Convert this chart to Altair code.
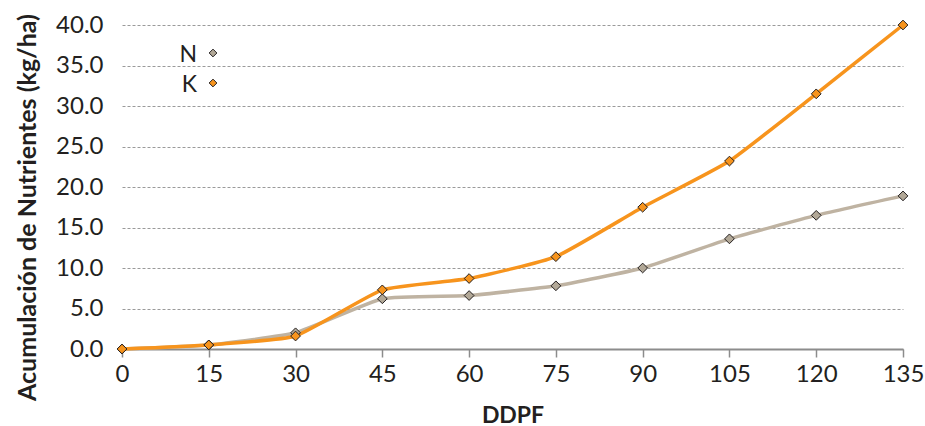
import altair as alt
import pandas as pd

ddpf = [0, 15, 30, 45, 60, 75, 90, 105, 120, 135]
n_vals = [0.0, 0.5, 2.0, 6.2, 6.6, 7.8, 10.0, 13.6, 16.5, 18.9]
k_vals = [0.0, 0.5, 1.6, 7.3, 8.7, 11.4, 17.5, 23.2, 31.5, 40.0]
series = ["N", "K"]
line_colors = ["#bfb3a2", "#f7941d"]
marker_colors = ["#b2a897", "#f7941d"]
x_ticks = [0, 15, 30, 45, 60, 75, 90, 105, 120, 135]
y_ticks = [0, 5, 10, 15, 20, 25, 30, 35, 40]

FONT = "Lato"

df = pd.DataFrame(
    {"DDPF": ddpf * 2,
     "valor": n_vals + k_vals,
     "serie": ["N"] * len(ddpf) + ["K"] * len(ddpf)}
)

x = alt.X(
    "DDPF:Q",
    scale=alt.Scale(domain=[0, 135], nice=False, zero=False),
    axis=alt.Axis(
        values=x_ticks, title="DDPF", grid=False, domainColor="#8c8c8c",
        domainWidth=2, tickColor="#8c8c8c", tickWidth=1.5, tickSize=8,
        labelFlush=False, labelOverlap=False, labelBound=False,
        labelPadding=5, labelFontSize=24, labelColor="#231f20", labelFont=FONT,
        titleFont=FONT, titleFontSize=23, titleFontWeight="bold",
        titleColor="#231f20", titlePadding=18,
    ),
)
y = alt.Y(
    "valor:Q",
    scale=alt.Scale(domain=[0, 40], nice=False),
    axis=alt.Axis(
        values=y_ticks, format=".1f", title="Acumulación de Nutrientes (kg/ha)",
        grid=True, gridDash=[3, 2], gridColor="#9a9a9a", gridWidth=1,
        domain=False, ticks=False, tickSize=0, labelPadding=19,
        labelFlush=False, labelOverlap=False,
        labelFontSize=24, labelColor="#231f20", labelFont=FONT,
        titleFont=FONT, titleFontSize=25, titleFontWeight="bold",
        titleColor="#231f20", titleX=-95, titleY=182, titleAngle=270,
        titleAlign="center", titleBaseline="middle",
    ),
)

layers = []
for s, lc in zip(series, line_colors):
    sub = df[df["serie"] == s]
    layers.append(
        alt.Chart(sub).mark_line(color=lc, strokeWidth=3.5, interpolate="cardinal",
                                 tension=0.55).encode(x=x, y=y)
    )
for s, mc in zip(series, marker_colors):
    sub = df[df["serie"] == s]
    layers.append(
        alt.Chart(sub).mark_point(shape="diamond", filled=True, fill=mc, stroke="#231f20",
                                  strokeWidth=1, size=95, opacity=1).encode(x=x, y=y)
    )

# legend (labels to the left of the symbols, as in the original)
leg_y = [28, 58]
for s, mc, ly in zip(series, marker_colors, leg_y):
    ldf = pd.DataFrame({"serie": [s]})
    layers.append(
        alt.Chart(ldf).mark_text(align="right", baseline="middle", fontSize=23,
                                 font=FONT, color="#231f20").encode(
            text="serie:N", x=alt.value(75), y=alt.value(ly + 2))
    )
    layers.append(
        alt.Chart(ldf).mark_point(shape="diamond", filled=True, fill=mc,
                                  stroke="#231f20", strokeWidth=1, size=60,
                                  opacity=1).encode(
            x=alt.value(91), y=alt.value(ly))
    )

chart = alt.layer(*layers).properties(
    width=781, height=324,
    padding={"left": 122, "top": 25, "right": 22, "bottom": 77},
    autosize=alt.AutoSizeParams(type="none"),
    background="white",
).configure_view(stroke=None)

chart.save("out.html", embed_options={"renderer": "svg", "actions": False})
